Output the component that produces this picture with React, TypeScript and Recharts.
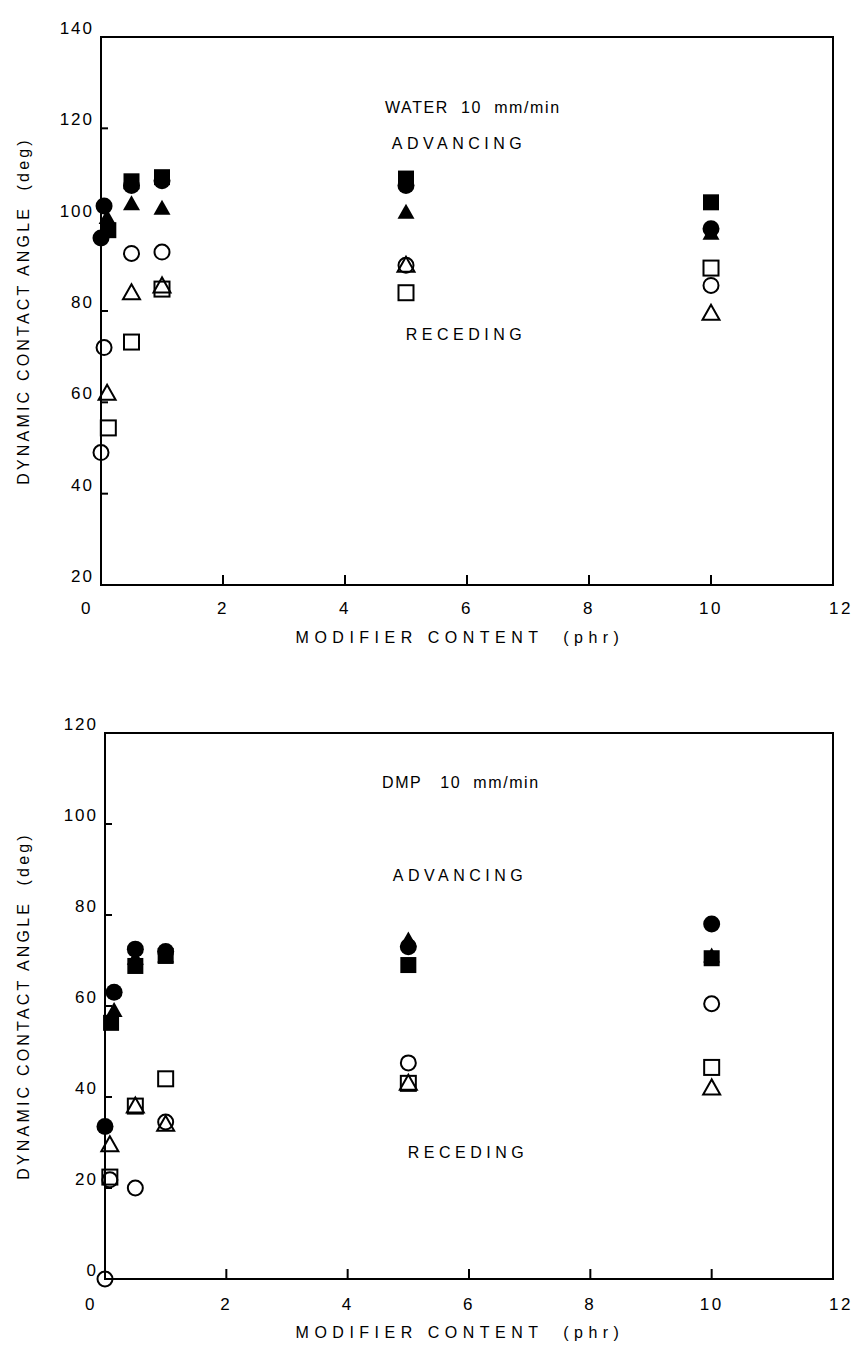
import React from 'react';
import { ScatterChart, Scatter, XAxis, YAxis, ReferenceArea } from 'recharts';

// ---------- tick labels ----------
const X_TICKS = [0, 2, 4, 6, 8, 10, 12];
const WATER_Y_TICKS = [20, 40, 60, 80, 100, 120, 140];
const DMP_Y_TICKS = [0, 20, 40, 60, 80, 100, 120];

// ---------- WATER 10 mm/min ----------
const WATER_CONTROL_X = [0];
const WATER_CONTROL_ADV = [96];
const WATER_CONTROL_REC = [49];

const WATER_X_CIRCLE = [0.05, 0.5, 1, 5, 10];
const WATER_X_TRIANGLE = [0.1, 0.5, 1, 5, 10];
const WATER_X_SQUARE = [0.12, 0.5, 1, 5, 10];

const WATER_ADV_CIRCLE = [103, 107.5, 108.5, 107.5, 98];
const WATER_ADV_TRIANGLE = [100.5, 103.5, 102.5, 101.6, 97];
const WATER_ADV_SQUARE = [97.7, 108.4, 109.3, 109, 103.8];
const WATER_REC_CIRCLE = [72, 92.6, 92.9, 90, 85.6];
const WATER_REC_TRIANGLE = [62, 84, 85.5, 90, 79.5];
const WATER_REC_SQUARE = [54.4, 73.2, 84.8, 84, 89.4];

// ---------- DMP 10 mm/min ----------
const DMP_CONTROL_X = [0];
const DMP_CONTROL_ADV = [33.5];
const DMP_CONTROL_REC = [0];

const DMP_X_CIRCLE = [0.15, 0.5, 1, 5, 10];
const DMP_X_TRIANGLE = [0.15, 0.5, 1, 5, 10];
const DMP_X_SQUARE = [0.1, 0.5, 1, 5, 10];
const DMP_X_REC = [0.08, 0.5, 1, 5, 10];

const DMP_ADV_CIRCLE = [63, 72.5, 72, 73, 78];
const DMP_ADV_TRIANGLE = [59, 70.5, 71, 74.5, 71];
const DMP_ADV_SQUARE = [56.3, 68.8, 71, 69, 70.5];
const DMP_REC_CIRCLE = [21.8, 20, 34.5, 47.5, 60.5];
const DMP_REC_TRIANGLE = [29.5, 38, 34, 43, 42];
const DMP_REC_SQUARE = [22.4, 38, 44, 43, 46.5];

const FONT = "'Liberation Sans', Arial, Helvetica, sans-serif";

const pts = (xs: number[], ys: number[]) => ys.map((y, i) => ({ x: xs[i], y }));

const circle = (filled: boolean) => (p: any) => (
  <circle cx={p.cx} cy={p.cy} r={filled ? 8.5 : 7.5} fill={filled ? '#000' : 'none'} stroke="#000" strokeWidth={filled ? 0 : 2} />
);
const square = (filled: boolean) => (p: any) => {
  const s = filled ? 16 : 15;
  return (
    <rect x={p.cx - s / 2} y={p.cy - s / 2} width={s} height={s} fill={filled ? '#000' : 'none'} stroke="#000" strokeWidth={filled ? 0 : 2} />
  );
};
const triangle = (filled: boolean) => (p: any) => (
  <polygon
    points={`${p.cx},${p.cy - 8.5} ${p.cx - 8.5},${p.cy + 6.5} ${p.cx + 8.5},${p.cy + 6.5}`}
    fill={filled ? '#000' : 'none'}
    stroke="#000"
    strokeWidth={filled ? 0 : 2}
    strokeLinejoin="miter"
  />
);

const makeXTick = (labelDy: number) => (props: any) => {
  const { x, y, payload } = props;
  const v = payload.value;
  const shift = v === 0 ? -14 : v === 12 ? 8 : 0;
  return (
    <g>
      <line x1={x} y1={y} x2={x} y2={y - 10} stroke="#000" strokeWidth={2} />
      <text x={x + shift} y={y + labelDy} textAnchor="middle" fontSize={17} fontFamily={FONT} letterSpacing={2.5} fill="#000">
        {v}
      </text>
    </g>
  );
};

const YTick = (props: any) => {
  const { x, y, payload } = props;
  return (
    <g>
      <line x1={x} y1={y} x2={x + 7} y2={y} stroke="#000" strokeWidth={2} />
      <text x={x - 7} y={y - 9} dy="0.35em" textAnchor="end" fontSize={17} fontFamily={FONT} letterSpacing={2} fill="#000">
        {payload.value}
      </text>
    </g>
  );
};

const Txt = ({
  x,
  y,
  children,
  rotate,
  ls = 4.5,
  start,
}: {
  x: number;
  y: number;
  children: any;
  rotate?: boolean;
  ls?: number;
  start?: boolean;
}) => (
  <div
    style={{
      position: 'absolute',
      left: x,
      top: y,
      fontFamily: FONT,
      fontSize: 16,
      letterSpacing: ls,
      color: '#000',
      whiteSpace: 'pre',
      lineHeight: 1,
      transform: rotate ? 'translate(-50%, -50%) rotate(-90deg)' : start ? 'translate(0, -50%)' : 'translate(-50%, -50%)',
    }}
  >
    {children}
  </div>
);

type Pt = { x: number; y: number };
type Panel = {
  yTicks: number[];
  yDomain: [number, number];
  controlX: number[];
  controlAdv: number[];
  controlRec: number[];
  advCircle: Pt[];
  advTriangle: Pt[];
  advSquare: Pt[];
  recCircle: Pt[];
  recTriangle: Pt[];
  recSquare: Pt[];
};

const Chart = ({ p, height, margin, xLabelDy }: { p: Panel; height: number; margin: any; xLabelDy: number }) => {
  const XTick = makeXTick(xLabelDy);
  return (
    <ScatterChart width={856} height={height} margin={margin}>
      <XAxis
        dataKey="x"
        type="number"
        domain={[0, 12]}
        ticks={X_TICKS}
        interval={0}
        height={40}
        tickSize={0}
        tickMargin={0}
        tickLine={false}
        axisLine={{ stroke: '#000', strokeWidth: 2 }}
        tick={<XTick />}
      />
      <YAxis
        dataKey="y"
        type="number"
        domain={p.yDomain}
        ticks={p.yTicks}
        interval={0}
        width={60}
        tickSize={0}
        tickMargin={0}
        tickLine={false}
        axisLine={{ stroke: '#000', strokeWidth: 2 }}
        tick={<YTick />}
      />
      <ReferenceArea x1={0} x2={12} y1={p.yDomain[0]} y2={p.yDomain[1]} fill="none" fillOpacity={0} stroke="#000" strokeWidth={2} />
      <Scatter data={pts(p.controlX, p.controlRec)} shape={circle(false)} isAnimationActive={false} />
      <Scatter data={p.recCircle} shape={circle(false)} isAnimationActive={false} />
      <Scatter data={p.recTriangle} shape={triangle(false)} isAnimationActive={false} />
      <Scatter data={p.recSquare} shape={square(false)} isAnimationActive={false} />
      <Scatter data={pts(p.controlX, p.controlAdv)} shape={circle(true)} isAnimationActive={false} />
      <Scatter data={p.advTriangle} shape={triangle(true)} isAnimationActive={false} />
      <Scatter data={p.advCircle} shape={circle(true)} isAnimationActive={false} />
      <Scatter data={p.advSquare} shape={square(true)} isAnimationActive={false} />
    </ScatterChart>
  );
};

const waterPanel: Panel = {
  yTicks: WATER_Y_TICKS,
  yDomain: [20, 140],
  controlX: WATER_CONTROL_X,
  controlAdv: WATER_CONTROL_ADV,
  controlRec: WATER_CONTROL_REC,
  advCircle: pts(WATER_X_CIRCLE, WATER_ADV_CIRCLE),
  advTriangle: pts(WATER_X_TRIANGLE, WATER_ADV_TRIANGLE),
  advSquare: pts(WATER_X_SQUARE, WATER_ADV_SQUARE),
  recCircle: pts(WATER_X_CIRCLE, WATER_REC_CIRCLE),
  recTriangle: pts(WATER_X_TRIANGLE, WATER_REC_TRIANGLE),
  recSquare: pts(WATER_X_SQUARE, WATER_REC_SQUARE),
};

const dmpPanel: Panel = {
  yTicks: DMP_Y_TICKS,
  yDomain: [0, 120],
  controlX: DMP_CONTROL_X,
  controlAdv: DMP_CONTROL_ADV,
  controlRec: DMP_CONTROL_REC,
  advCircle: pts(DMP_X_CIRCLE, DMP_ADV_CIRCLE),
  advTriangle: pts(DMP_X_TRIANGLE, DMP_ADV_TRIANGLE),
  advSquare: pts(DMP_X_SQUARE, DMP_ADV_SQUARE),
  recCircle: pts(DMP_X_REC, DMP_REC_CIRCLE),
  recTriangle: pts(DMP_X_REC, DMP_REC_TRIANGLE),
  recSquare: pts(DMP_X_REC, DMP_REC_SQUARE),
};

export default function App() {
  return (
    <div style={{ position: 'absolute', left: 0, top: 0, width: 856, height: 1349, background: '#fff', overflow: 'hidden' }}>
      <div style={{ position: 'absolute', left: 0, top: 0 }}>
        <Chart p={waterPanel} height={680} margin={{ top: 37, right: 23, bottom: 55, left: 41 }} xLabelDy={29} />
      </div>
      <div style={{ position: 'absolute', left: 0, top: 680 }}>
        <Chart p={dmpPanel} height={669} margin={{ top: 53, right: 23, bottom: 30, left: 45 }} xLabelDy={31} />
      </div>

      <Txt x={385} y={108} ls={1.6} start>{'WATER  10  mm/min'}</Txt>
      <Txt x={459} y={144}>ADVANCING</Txt>
      <Txt x={466} y={335}>RECEDING</Txt>
      <Txt x={460} y={638} ls={5.5}>{'MODIFIER CONTENT  (phr)'}</Txt>
      <Txt x={24} y={311} ls={3.2} rotate>{'DYNAMIC CONTACT ANGLE  (deg)'}</Txt>

      <Txt x={382} y={783} ls={1.6} start>{'DMP   10  mm/min'}</Txt>
      <Txt x={460} y={876}>ADVANCING</Txt>
      <Txt x={468} y={1153}>RECEDING</Txt>
      <Txt x={460} y={1333} ls={5.5}>{'MODIFIER CONTENT  (phr)'}</Txt>
      <Txt x={24} y={1006} ls={3.2} rotate>{'DYNAMIC CONTACT ANGLE  (deg)'}</Txt>
    </div>
  );
}
